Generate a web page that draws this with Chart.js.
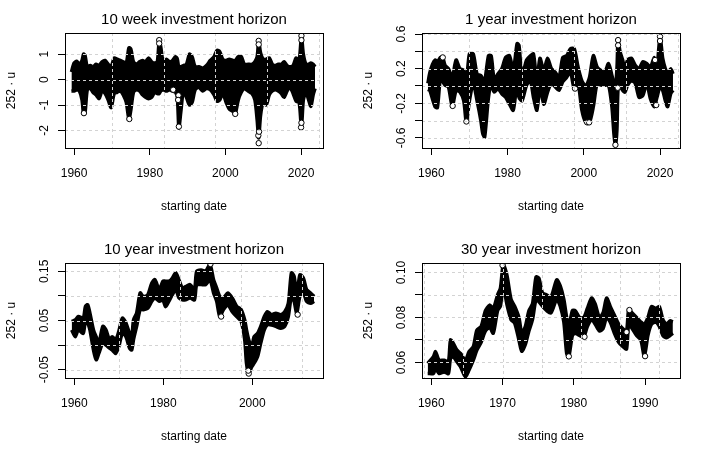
<!DOCTYPE html>
<html>
<head>
<meta charset="utf-8">
<script src="https://cdn.jsdelivr.net/npm/chart.js@4.4.1/dist/chart.umd.min.js"></script>
<style>
  body { margin: 0; background: #fff; }
  #wrap { position: relative; width: 714px; height: 460px; }
  .cell { position: absolute; width: 357px; height: 230px; }
</style>
</head>
<body>
<div id="wrap">
  <div class="cell" style="left:0;top:0"><canvas id="p1" width="357" height="230"></canvas></div>
  <div class="cell" style="left:357px;top:0"><canvas id="p2" width="357" height="230"></canvas></div>
  <div class="cell" style="left:0;top:230px"><canvas id="p3" width="357" height="230"></canvas></div>
  <div class="cell" style="left:357px;top:230px"><canvas id="p4" width="357" height="230"></canvas></div>
</div>
<script>
const FONT = '"Liberation Sans", Arial, sans-serif';

// ---- 10 week horizon ----
const wk10Years = [1959.3,1960.0,1960.7,1961.4,1962.1,1962.5,1962.9,1963.5,1964.3,1965.0,
  1965.8,1966.6,1967.4,1968.2,1969.0,1969.8,1970.6,1971.4,1972.2,1973.0,
  1973.8,1974.5,1975.0,1975.7,1976.5,1977.3,1978.1,1978.9,1979.7,1980.5,
  1981.3,1982.0,1982.5,1982.9,1983.6,1984.4,1985.2,1986.0,1986.8,1987.3,
  1987.7,1988.2,1988.9,1989.7,1990.5,1991.2,1992.0,1993.0,1994.0,1995.0,
  1996.0,1997.0,1997.8,1998.5,1999.3,2000.2,2001.0,2002.0,2002.6,2003.4,
  2004.2,2005.0,2006.0,2007.0,2007.8,2008.4,2008.8,2009.3,2010.0,2010.8,
  2011.6,2012.4,2013.2,2014.0,2014.8,2015.5,2016.3,2017.1,2017.9,2018.7,
  2019.5,2020.1,2020.6,2021.3,2022.0,2022.6,2023.2,2023.7];
const wk10High = [0.3,0.65,0.72,0.6,0.75,1.0,0.95,0.5,0.55,0.5,
  0.6,0.55,0.7,0.75,0.6,0.5,0.85,0.8,0.75,0.7,
  0.65,1.25,1.2,0.7,0.6,0.7,0.75,0.7,0.85,0.7,
  0.65,0.7,1.5,1.3,0.65,0.8,0.7,0.75,0.9,0.8,
  0.45,0.5,0.55,0.6,1.0,0.9,0.5,0.5,0.45,0.55,
  0.75,0.9,1.15,1.1,0.8,0.75,0.8,0.75,0.75,0.9,
  0.9,0.6,0.6,0.6,0.7,0.9,1.5,1.05,0.8,0.8,
  0.85,0.6,0.55,0.6,0.6,0.7,0.55,0.5,0.55,0.85,
  0.75,1.7,1.0,0.6,0.6,0.65,0.6,0.5];
const wk10Low = [-0.45,-0.45,-0.4,-0.45,-0.8,-1.35,-1.3,-0.4,-0.35,-0.5,
  -0.6,-0.75,-0.45,-0.55,-0.8,-1.1,-0.55,-0.5,-0.45,-0.6,
  -0.9,-1.55,-1.2,-0.5,-0.4,-0.45,-0.6,-0.7,-0.75,-0.7,
  -0.5,-0.55,-0.55,-0.45,-0.4,-0.45,-0.4,-0.45,-0.5,-0.7,
  -1.9,-1.3,-0.45,-0.7,-1.0,-0.9,-0.4,-0.3,-0.45,-0.35,
  -0.4,-0.6,-0.85,-0.8,-0.55,-0.9,-1.15,-1.25,-1.35,-0.8,
  -0.5,-0.35,-0.45,-0.55,-0.8,-1.6,-2.3,-1.4,-0.9,-1.0,
  -0.6,-0.45,-0.4,-0.45,-0.55,-0.7,-0.45,-0.3,-0.55,-0.85,
  -0.9,-1.9,-0.8,-0.5,-0.8,-1.05,-0.6,-0.35];
const wk10OutYears = [1982.5,1982.5,1987.7,1987.6,1987.5,1986.2,2008.8,2008.8,2008.8,2008.7,2008.9,2020.1,2020.1,2020.0,2020.1,1962.6,1974.6,2002.6];
const wk10OutValues = [1.55,1.42,-1.85,-0.62,-0.8,-0.4,1.52,1.38,-2.5,-2.2,-2.05,1.72,1.55,-1.88,-1.7,-1.32,-1.55,-1.35];
const wk10YTicks = [-2, -1, 0, 1];
const wk10YLabels = ['-2', '-1', '0', '1'];

// ---- 1 year horizon ----
const yr1Years = [1959.1,1959.6,1960.3,1961.0,1961.6,1962.4,1963.0,1963.6,1964.5,1965.5,
  1966.5,1967.5,1968.5,1969.2,1970.0,1971.0,1972.0,1973.0,1973.5,1974.0,
  1975.0,1975.7,1976.5,1977.5,1978.5,1979.5,1980.5,1981.5,1982.5,1983.0,
  1983.8,1985.0,1986.0,1986.8,1987.7,1988.5,1989.5,1990.5,1991.5,1992.5,
  1993.5,1994.5,1995.5,1996.5,1997.5,1998.5,1999.5,2000.5,2001.5,2002.5,
  2003.5,2004.5,2005.5,2006.5,2007.4,2007.9,2008.3,2008.7,2009.0,2009.5,
  2010.2,2010.8,2011.5,2012.5,2013.5,2014.5,2015.5,2016.5,2017.5,2018.5,
  2019.2,2020.0,2020.7,2021.4,2022.0,2022.8,2023.4];
const yr1High = [0.03,0.15,0.25,0.3,0.28,0.33,0.33,0.24,0.2,0.1,
  0.3,0.2,0.18,0.06,0.37,0.37,0.14,0.12,0.08,0.05,
  0.35,0.35,0.08,0.14,0.2,0.33,0.35,0.18,0.49,0.47,
  0.12,0.3,0.35,0.37,0.06,0.32,0.18,0.32,0.2,0.16,
  0.1,0.33,0.35,0.43,0.43,0.22,0.06,0.0,0.1,0.35,
  0.22,0.18,0.16,0.26,0.12,0.02,0.0,0.2,0.53,0.4,
  0.3,0.2,0.3,0.32,0.24,0.2,0.28,0.26,0.22,0.33,
  0.22,0.57,0.32,0.2,0.14,0.2,0.14];
const yr1Low = [-0.04,-0.05,-0.15,-0.24,-0.25,0.1,0.05,0.01,-0.01,-0.24,
  -0.05,-0.07,-0.17,-0.42,-0.17,0.03,-0.17,-0.4,-0.55,-0.59,
  -0.13,0.01,-0.07,-0.03,-0.09,-0.13,-0.21,-0.28,0.03,-0.13,
  -0.17,0.01,0.06,-0.13,-0.28,-0.01,-0.21,-0.07,0.03,-0.01,
  -0.05,0.05,0.1,0.16,-0.03,0.03,-0.28,-0.42,-0.42,-0.24,
  0.03,0.01,0.01,0.01,-0.25,-0.55,-0.68,-0.5,-0.02,-0.01,
  -0.05,-0.07,0.01,0.06,0.03,-0.13,-0.11,0.03,-0.15,-0.24,
  -0.13,-0.01,-0.05,-0.17,-0.24,-0.09,-0.05];
const yr1OutYears = [2009.0,2009.0,2008.9,2020.0,2020.0,1969.2,1965.6,2000.9,2001.4,2019.0,2018.7,1997.7,1963.0,2008.3];
const yr1OutValues = [0.53,0.47,-0.02,0.57,0.52,-0.41,-0.23,-0.42,-0.42,-0.22,0.3,-0.03,0.33,-0.68];
const yr1YTicks = [-0.6, -0.4, -0.2, 0, 0.2, 0.4, 0.6];
const yr1YLabels = ['-0.6', '-0.2', '0.2', '0.6'];

// ---- 10 year horizon ----
const yr10Years = [1959.4,1960.2,1960.9,1962.0,1962.5,1963.0,1963.5,1964.3,1964.9,1965.5,
  1966.4,1967.1,1967.9,1968.5,1969.3,1970.0,1970.8,1971.6,1972.4,1972.9,
  1973.3,1974.0,1974.8,1975.5,1976.5,1977.4,1978.1,1979.1,1979.9,1980.5,
  1981.3,1982.0,1982.8,1983.5,1984.3,1985.0,1986.0,1987.0,1987.5,1988.5,
  1989.5,1990.5,1991.3,1992.0,1992.7,1993.5,1994.5,1995.5,1996.5,1997.5,
  1998.3,1998.7,1999.2,1999.9,2000.4,2001.2,2001.9,2002.7,2003.4,2004.3,
  2005.3,2006.4,2007.3,2008.1,2008.8,2009.4,2010.0,2010.7,2011.5,2012.2,
  2013.1,2013.9];
const yr10High = [0.048,0.051,0.058,0.055,0.079,0.082,0.065,0.031,0.017,0.004,
  0.038,0.031,0.011,0.017,0.011,0.028,0.055,0.045,0.024,0.017,
  0.051,0.065,0.106,0.099,0.102,0.126,0.133,0.113,0.13,0.13,
  0.13,0.136,0.147,0.133,0.116,0.119,0.123,0.113,0.15,0.153,
  0.15,0.164,0.133,0.116,0.099,0.096,0.106,0.096,0.079,0.072,
  0.051,0.031,0.011,-0.003,0.017,0.024,0.038,0.058,0.068,0.062,
  0.065,0.062,0.068,0.085,0.147,0.14,0.102,0.143,0.136,0.113,
  0.106,0.099];
const yr10Low = [0.031,0.017,0.031,0.024,0.051,0.045,0.031,-0.01,-0.03,-0.017,
  0.004,0.0,-0.006,-0.01,-0.017,-0.003,0.024,0.017,-0.006,-0.01,
  0.011,0.038,0.072,0.072,0.075,0.089,0.096,0.089,0.092,0.078,
  0.09,0.102,0.113,0.096,0.092,0.092,0.096,0.092,0.123,0.123,
  0.123,0.133,0.106,0.089,0.058,0.072,0.082,0.068,0.058,0.048,
  0.011,-0.037,-0.057,-0.044,-0.037,-0.023,0.004,0.031,0.041,0.041,
  0.038,0.034,0.038,0.058,0.099,0.089,0.065,0.099,0.106,0.089,
  0.085,0.089];
const yr10OutYears = [1999.2,1999.1,1993.0,2010.2,1990.6];
const yr10OutValues = [-0.058,-0.052,0.058,0.062,0.165];
const yr10YTicks = [-0.05, 0, 0.05, 0.1, 0.15];
const yr10YLabels = ['-0.05', '0.05', '0.15'];

// ---- 30 year horizon ----
const yr30Years = [1959.5,1960.3,1960.6,1961.1,1961.8,1962.4,1962.7,1963.1,1963.6,1964.1,
  1964.8,1965.3,1965.9,1966.4,1967.0,1967.6,1968.2,1968.7,1969.3,1969.7,
  1970.1,1970.6,1971.2,1971.7,1972.3,1972.7,1973.2,1973.7,1974.2,1974.7,
  1975.1,1975.6,1976.2,1976.8,1977.6,1978.1,1978.6,1979.0,1979.3,1979.8,
  1980.2,1980.8,1981.4,1981.9,1982.5,1983.0,1983.6,1984.1,1984.6,1985.1,
  1985.7,1986.3,1986.9,1987.4,1987.7,1988.2,1988.8,1989.4,1989.9,1990.4,
  1990.9,1991.5,1992.0,1992.5,1993.0,1993.5,1993.9];
const yr30High = [0.0596,0.0625,0.0648,0.061,0.061,0.0603,0.07,0.0685,0.0655,0.064,
  0.061,0.0648,0.067,0.0744,0.076,0.083,0.0855,0.084,0.09,0.093,
  0.1034,0.099,0.088,0.085,0.08,0.073,0.076,0.083,0.086,0.098,
  0.0975,0.091,0.09,0.089,0.0967,0.094,0.088,0.08,0.076,0.083,
  0.083,0.08,0.08,0.084,0.0886,0.086,0.08,0.082,0.0886,0.085,
  0.081,0.077,0.075,0.074,0.0833,0.082,0.08,0.078,0.077,0.08,
  0.0848,0.084,0.0848,0.079,0.077,0.0785,0.078];
const yr30Low = [0.0551,0.0551,0.0573,0.0551,0.0558,0.0551,0.0618,0.0625,0.0603,0.0581,
  0.0536,0.0566,0.061,0.0655,0.069,0.074,0.0755,0.073,0.083,0.085,
  0.094,0.086,0.079,0.0775,0.07,0.065,0.068,0.074,0.079,0.088,
  0.087,0.085,0.083,0.082,0.088,0.085,0.078,0.064,0.0625,0.072,
  0.073,0.072,0.0714,0.076,0.079,0.077,0.074,0.075,0.08,0.078,
  0.073,0.069,0.067,0.066,0.077,0.075,0.072,0.07,0.0628,0.072,
  0.077,0.078,0.076,0.072,0.071,0.072,0.073];
const yr30OutYears = [1970.0,1979.3,1990.0,1981.5,1987.4,1987.8];
const yr30OutValues = [0.1032,0.0627,0.0628,0.0714,0.0735,0.0833];
const yr30YTicks = [0.06, 0.07, 0.08, 0.09, 0.10];
const yr30YLabels = ['0.06', '0.08', '0.10'];

// x axis labels and dotted grid positions (R's Date axis: every 5000 / 2000 days)
const xTicksLong = [1960, 1980, 2000, 2020];
const xTicks10 = [1960, 1980, 2000];
const xTicks30 = [1960, 1970, 1980, 1990];
const gridDays5000 = [1970.0, 1983.69, 1997.38, 2011.07, 2024.76];
const gridDays2000 = [1959.05, 1964.52, 1970.0, 1975.48, 1980.95, 1986.43, 1991.90];

const rFrame = {
  id: 'rFrame',
  afterDatasetsDraw(chart, args, opts) {
    const { ctx, chartArea: a, scales: { x, y } } = chart;
    ctx.save();
    ctx.beginPath();
    ctx.rect(a.left, a.top, a.right - a.left, a.bottom - a.top);
    ctx.clip();
    ctx.strokeStyle = '#d3d3d3';
    ctx.lineWidth = 1;
    ctx.setLineDash([3, 3]);
    ctx.beginPath();
    opts.xGrid.forEach(v => {
      const px = Math.round(x.getPixelForValue(v)) + 0.5;
      ctx.moveTo(px, a.top); ctx.lineTo(px, a.bottom);
    });
    opts.yTicks.forEach(v => {
      const py = Math.round(y.getPixelForValue(v)) + 0.5;
      ctx.moveTo(a.left, py); ctx.lineTo(a.right, py);
    });
    ctx.stroke();
    ctx.restore();

    ctx.save();
    ctx.strokeStyle = '#000';
    ctx.lineWidth = 1;
    ctx.strokeRect(Math.round(a.left) + 0.5, Math.round(a.top) + 0.5,
      Math.round(a.right - a.left), Math.round(a.bottom - a.top));
    ctx.restore();
  },
  afterDraw(chart, args, opts) {
    const { ctx, chartArea: a, scales: { y } } = chart;
    ctx.save();
    ctx.fillStyle = '#000';
    ctx.textAlign = 'center';
    ctx.textBaseline = 'alphabetic';
    ctx.font = '15px ' + FONT;
    ctx.fillText(opts.title, (a.left + a.right) / 2, 24);
    ctx.font = '12px ' + FONT;
    opts.yLabels.forEach(lbl => {
      ctx.save();
      ctx.translate(a.left - 17, y.getPixelForValue(parseFloat(lbl)));
      ctx.rotate(-Math.PI / 2);
      ctx.fillText(lbl, 0, 0);
      ctx.restore();
    });
    ctx.restore();
  }
};

function pts(xs, ys) {
  return xs.map((v, i) => ({ x: v, y: ys[i] }));
}

function panel(id, p) {
  new Chart(document.getElementById(id), {
    type: 'line',
    data: {
      datasets: [
        {
          data: pts(p.outYears, p.outValues),
          showLine: false,
          pointRadius: 2.7,
          pointBorderWidth: 1,
          pointBackgroundColor: '#fff',
          pointBorderColor: '#000'
        },
        {
          data: pts(p.years, p.high),
          borderColor: '#000',
          borderWidth: 3.5,
          pointRadius: 0,
          tension: 0.25,
          fill: false
        },
        {
          data: pts(p.years, p.low),
          borderColor: '#000',
          borderWidth: 3.5,
          pointRadius: 0,
          tension: 0.25,
          backgroundColor: '#000',
          fill: '-1'
        }
      ]
    },
    options: {
      responsive: false,
      animation: false,
      layout: { padding: { top: 33, right: 34, left: 0, bottom: 0 } },
      plugins: {
        legend: { display: false },
        tooltip: { enabled: false },
        rFrame: { title: p.title, xGrid: p.xGrid, yTicks: p.yTicks, yLabels: p.yLabels }
      },
      scales: {
        x: {
          type: 'linear',
          min: p.xMin, max: p.xMax,
          afterBuildTicks: s => { s.ticks = p.xTicks.map(v => ({ value: v })); },
          afterFit: s => { s.height = 82; },
          grid: { drawOnChartArea: false, color: '#000', tickLength: 7 },
          border: { display: false },
          ticks: {
            color: '#000', font: { family: FONT, size: 12 }, padding: 11,
            autoSkip: false, maxRotation: 0, callback: v => String(v)
          },
          title: {
            display: true, text: 'starting date', color: '#000',
            font: { family: FONT, size: 12 }, padding: { top: 0, bottom: 16 }
          }
        },
        y: {
          min: p.yMin, max: p.yMax,
          afterBuildTicks: s => { s.ticks = p.yTicks.map(v => ({ value: v })); },
          afterFit: s => { s.width = 65; },
          grid: { drawOnChartArea: false, color: '#000', tickLength: 7 },
          border: { display: false },
          ticks: { display: false },
          title: {
            display: true, text: '252 \u00b7 u', color: '#000',
            font: { family: FONT, size: 12 }, padding: { top: 4, bottom: 0 }
          }
        }
      }
    },
    plugins: [rFrame]
  });
}

panel('p1', {
  title: '10 week investment horizon',
  years: wk10Years, high: wk10High, low: wk10Low,
  outYears: wk10OutYears, outValues: wk10OutValues,
  xTicks: xTicksLong, xGrid: gridDays5000, yTicks: wk10YTicks, yLabels: wk10YLabels,
  xMin: 1957.6, xMax: 2025.8, yMin: -2.69, yMax: 1.83
});
panel('p2', {
  title: '1 year investment horizon',
  years: yr1Years, high: yr1High, low: yr1Low,
  outYears: yr1OutYears, outValues: yr1OutValues,
  xTicks: xTicksLong, xGrid: gridDays5000, yTicks: yr1YTicks, yLabels: yr1YLabels,
  xMin: 1957.56, xMax: 2025.24, yMin: -0.716, yMax: 0.612
});
panel('p3', {
  title: '10 year investment horizon',
  years: yr10Years, high: yr10High, low: yr10Low,
  outYears: yr10OutYears, outValues: yr10OutValues,
  xTicks: xTicks10, xGrid: gridDays5000, yTicks: yr10YTicks, yLabels: yr10YLabels,
  xMin: 1957.9, xMax: 2015.9, yMin: -0.067, yMax: 0.167
});
panel('p4', {
  title: '30 year investment horizon',
  years: yr30Years, high: yr30High, low: yr30Low,
  outYears: yr30OutYears, outValues: yr30OutValues,
  xTicks: xTicks30, xGrid: gridDays2000, yTicks: yr30YTicks, yLabels: yr30YLabels,
  xMin: 1958.7, xMax: 1994.9, yMin: 0.0531, yMax: 0.1042
});
</script>
</body>
</html>
